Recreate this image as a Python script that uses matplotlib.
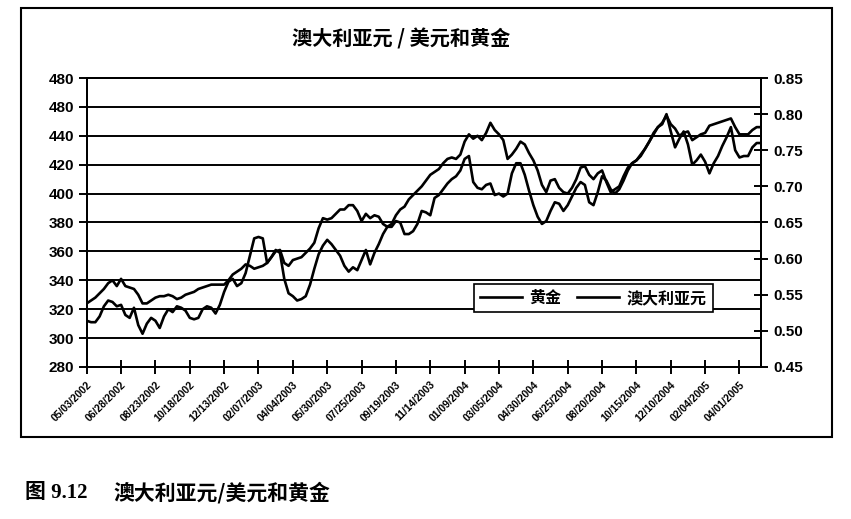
import numpy as np
import matplotlib
matplotlib.use('Agg')
import matplotlib.pyplot as plt
from matplotlib.patches import Rectangle

# weekly data, 05/03/2002 - end of April 2005
gold = [312, 311, 311, 315, 322, 326, 325, 322, 323, 316,
        314, 321, 309, 303, 310, 314, 312, 307, 315, 320,
        318, 322, 321, 319, 314, 313, 314, 320, 322, 321,
        317, 323, 332, 339, 341, 336, 338, 345, 357, 369,
        370, 369, 352, 356, 361, 359, 341, 331, 329, 326,
        327, 329, 337, 348, 358, 364, 368, 365, 361, 357,
        350, 346, 349, 347, 354, 361, 351, 359, 365, 372,
        377, 377, 381, 380, 372, 372, 374, 379, 388, 387,
        385, 397, 399, 403, 407, 410, 412, 416, 424, 426,
        408, 404, 403, 406, 407, 399, 400, 398, 400, 414,
        421, 421, 413, 402, 392, 384, 379, 381, 388, 394,
        393, 388, 392, 398, 404, 408, 406, 394, 392, 401,
        412, 409, 403, 400, 403, 409, 416, 421, 423, 426,
        431, 436, 441, 446, 448, 455, 443, 432, 438, 443,
        434, 420, 423, 427, 422, 414, 421, 426, 433, 439,
        446, 430, 425, 426, 426, 432, 435, 435]

aud = [0.538, 0.542, 0.546, 0.552, 0.558, 0.566, 0.570, 0.562, 0.572, 0.562,
       0.560, 0.558, 0.550, 0.538, 0.538, 0.542, 0.546, 0.548, 0.548, 0.550,
       0.548, 0.544, 0.546, 0.550, 0.552, 0.554, 0.558, 0.560, 0.562, 0.564,
       0.564, 0.564, 0.564, 0.570, 0.578, 0.582, 0.586, 0.592, 0.590, 0.586,
       0.588, 0.590, 0.594, 0.602, 0.610, 0.612, 0.594, 0.590, 0.598, 0.600,
       0.602, 0.608, 0.614, 0.622, 0.642, 0.656, 0.654, 0.656, 0.662, 0.668,
       0.668, 0.674, 0.674, 0.666, 0.652, 0.662, 0.656, 0.660, 0.658, 0.648,
       0.644, 0.648, 0.660, 0.668, 0.672, 0.682, 0.688, 0.694, 0.700, 0.708,
       0.716, 0.720, 0.724, 0.732, 0.738, 0.740, 0.738, 0.744, 0.762, 0.772,
       0.766, 0.770, 0.764, 0.774, 0.788, 0.778, 0.772, 0.764, 0.738, 0.744,
       0.752, 0.762, 0.758, 0.746, 0.736, 0.722, 0.702, 0.692, 0.708, 0.710,
       0.698, 0.692, 0.690, 0.698, 0.710, 0.726, 0.728, 0.716, 0.710, 0.718,
       0.722, 0.706, 0.692, 0.696, 0.700, 0.714, 0.726, 0.732, 0.736, 0.744,
       0.752, 0.762, 0.774, 0.782, 0.788, 0.798, 0.786, 0.780, 0.770, 0.774,
       0.776, 0.764, 0.768, 0.772, 0.774, 0.784, 0.786, 0.788, 0.790, 0.792,
       0.794, 0.782, 0.772, 0.772, 0.772, 0.778, 0.782, 0.782]

tick_dates = ["05/03/2002", "06/28/2002", "08/23/2002", "10/18/2002", "12/13/2002",
              "02/07/2003", "04/04/2003", "05/30/2003", "07/25/2003", "09/19/2003",
              "11/14/2003", "01/09/2004", "03/05/2004", "04/30/2004", "06/25/2004",
              "08/20/2004", "10/15/2004", "12/10/2004", "02/04/2005", "04/01/2005"]

left_ticks = [280, 300, 320, 340, 360, 380, 400, 420, 440, 460, 480]
left_labels = ["280", "300", "320", "340", "360", "380", "400", "420", "440", "480", "480"]
right_ticks = [0.45, 0.50, 0.55, 0.60, 0.65, 0.70, 0.75, 0.80, 0.85]

plt.rcParams['font.family'] = ['Liberation Sans', 'Noto Sans CJK SC']
plt.rcParams['font.weight'] = 'bold'

fig = plt.figure(figsize=(8.51, 5.19), dpi=100)
fig.patches.append(Rectangle((0.0247, 0.158), 0.953, 0.8266, transform=fig.transFigure,
                             fill=False, edgecolor='black', lw=1.5))

ax = fig.add_axes([0.1019, 0.2929, 0.7923, 0.5568])
weeks = np.arange(len(gold))
l1, = ax.plot(weeks, gold, color='black', lw=1.9)
ax2 = ax.twinx()
l2, = ax2.plot(weeks, aud, color='black', lw=1.9)

ax.set_xlim(0, len(gold) - 1)
ax.set_ylim(280, 480)
ax.set_yticks(left_ticks)
ax.set_yticklabels(left_labels)
ax2.set_ylim(0.45, 0.85)
ax2.set_yticks(right_ticks)
ax2.set_yticklabels(['%.2f' % t for t in right_ticks])

ax.set_xticks(range(0, len(gold), 8))
ax.set_xticklabels(tick_dates, rotation=45, ha='right', rotation_mode='anchor')

ax.grid(axis='y', color='black', lw=1.4)
for a in (ax, ax2):
    for s in a.spines.values():
        s.set_linewidth(1.4)
ax.tick_params(axis='y', direction='out', length=6, width=1.4, labelsize=11, pad=3)
ax.tick_params(axis='x', direction='inout', length=10, width=1.4, labelsize=7.5, pad=4)
ax2.tick_params(axis='y', direction='inout', length=10, width=1.4, labelsize=11, pad=4)

leg = fig.legend([l1, l2], ['黄金', '澳大利亚元'], ncol=2, loc='center',
                 bbox_to_anchor=(0.6974, 0.4258), frameon=True, fancybox=False,
                 edgecolor='black', framealpha=1, handlelength=2.6, columnspacing=1.0,
                 handletextpad=0.5, borderpad=0.4,
                 prop={'family': ['Noto Sans CJK SC'], 'weight': 'bold', 'size': 11.5})
leg.get_frame().set_linewidth(1.2)

fig.text(0.4718, 0.9258, '澳大利亚元 / 美元和黄金', ha='center', va='center',
         fontsize=14.5, fontweight='bold', family=['Noto Sans CJK SC'])
fig.text(0.0294, 0.0501, '图 9.12', ha='left', va='center', fontsize=15,
         fontweight='bold', family=['Liberation Serif', 'Noto Sans CJK SC'])
fig.text(0.1328, 0.0501, '澳大利亚元/美元和黄金', ha='left', va='center', fontsize=15,
         fontweight='bold', family=['Noto Sans CJK SC'])

fig.savefig('out.png', dpi=100)
